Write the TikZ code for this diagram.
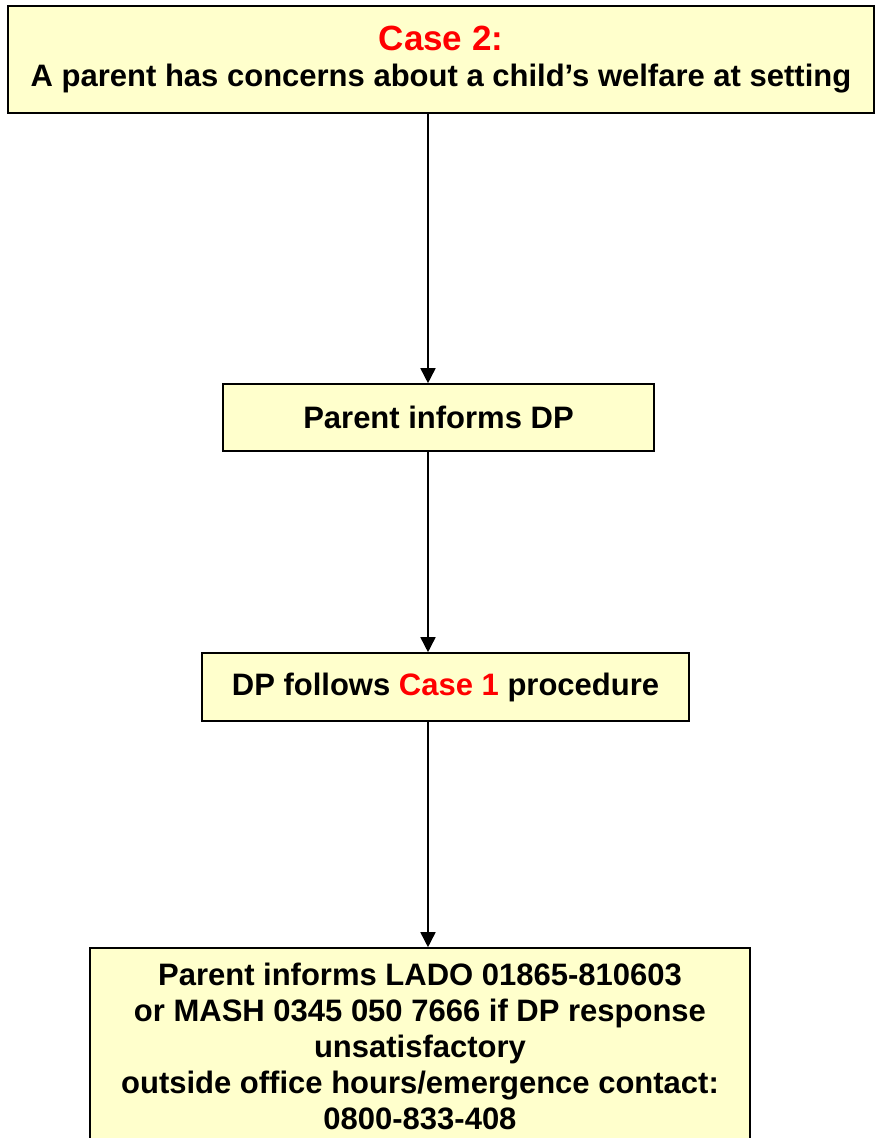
\documentclass[tikz,border=0pt]{standalone}
\usepackage{fontspec}
\setmainfont{Liberation Sans}
\usepackage{tikz}
\usetikzlibrary{positioning, calc, arrows.meta}
\definecolor{boxyellow}{HTML}{FFFFCC}
\definecolor{caseRed}{HTML}{FF0000}

\begin{document}
\begin{tikzpicture}[x=1pt, y=-1pt,
     box/.style={draw, line width=1.6pt, fill=boxyellow, align=center, inner sep=0pt,
          font=\fontsize{31}{36}\selectfont\bfseries},
     arr/.style={-{Triangle[length=15pt, width=15pt]}, line width=1.6pt}]
     \useasboundingbox (0,0) rectangle (875,1138);
     \clip (0,0) rectangle (875,1138);
     % the four steps
     \node[box, minimum width=866pt, minimum height=107pt] (case) at (441,59.5)
          {{\fontsize{35}{38}\selectfont\textcolor{caseRed}{Case 2:}}\\A parent has concerns about a child’s welfare at setting};
     \node[box, minimum width=431pt, minimum height=67pt] (inform) at (438.5,417.5)
          {Parent informs DP};
     \node[box, minimum width=487pt, minimum height=68pt] (follow) at (445.5,687)
          {DP follows \textcolor{caseRed}{Case 1} procedure};
     \node[box, minimum width=660pt, minimum height=197pt] (lado) at (420,1046.5)
          {Parent informs LADO 01865-810603\\or MASH 0345 050 7666 if DP response\\unsatisfactory\\outside office hours/emergence contact:\\0800-833-408};
     % arrows down the middle
     \coordinate (axis) at (428,0);
     \draw[arr] (case.south -| axis) -- (inform.north -| axis);
     \draw[arr] (inform.south -| axis) -- (follow.north -| axis);
     \draw[arr] (follow.south -| axis) -- (lado.north -| axis);
\end{tikzpicture}
\end{document}
